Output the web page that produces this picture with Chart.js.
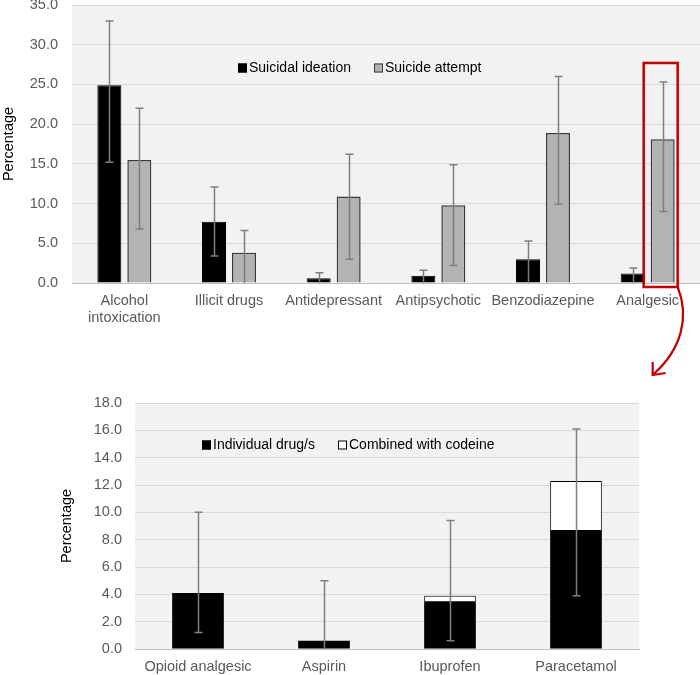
<!DOCTYPE html>
<html>
<head>
<meta charset="utf-8">
<script src="https://cdn.jsdelivr.net/npm/chart.js@4.4.0/dist/chart.umd.min.js"></script>
<style>
  html, body { margin: 0; padding: 0; background: #fff; }
  #wrap { position: relative; width: 700px; height: 675px; overflow: hidden; }
  #topChart { position: absolute; left: 0; top: 0; }
  #bottomChart { position: absolute; left: 0; top: 380px; }
  #overlay { position: absolute; left: 0; top: 0; pointer-events: none; }
</style>
</head>
<body>
<div id="wrap">
  <canvas id="topChart" width="700" height="330"></canvas>
  <canvas id="bottomChart" width="700" height="295"></canvas>
  <canvas id="overlay" width="700" height="675"></canvas>
</div>
<script>
// top chart data
const categories = [['Alcohol', 'intoxication'], 'Illicit drugs', 'Antidepressant', 'Antipsychotic', 'Benzodiazepine', 'Analgesic'];
const ideation = [24.9, 7.7, 0.6, 0.9, 3.0, 1.2];
const ideationLow = [15.2, 3.4, 0, 0, 0, 0];
const ideationHigh = [33.0, 12.1, 1.3, 1.6, 5.3, 1.9];
const attempt = [15.5, 3.8, 10.9, 9.8, 18.9, 18.1];
const attemptLow = [6.8, 0, 3.0, 2.2, 9.9, 9.0];
const attemptHigh = [22.0, 6.6, 16.2, 14.9, 26.0, 25.3];

// bottom chart data
const drugs = ['Opioid analgesic', 'Aspirin', 'Ibuprofen', 'Paracetamol'];
const individual = [4.1, 0.6, 3.5, 8.7];
const withCodeine = [0, 0, 0.4, 3.6];
const drugLow = [1.2, 0, 0.6, 3.9];
const drugHigh = [10.0, 5.0, 9.4, 16.1];

const FONT = 'Arial, "Liberation Sans", sans-serif';
const TICK_SIZE = 14.5;
Chart.defaults.font.family = FONT;
Chart.defaults.font.size = TICK_SIZE;
Chart.defaults.animation = false;

// grey plot area
const plotBg = {
  id: 'plotBg',
  beforeDraw(chart) {
    const a = chart.chartArea, ctx = chart.ctx;
    ctx.save();
    ctx.fillStyle = '#f2f2f2';
    ctx.fillRect(a.left, a.top, a.right - a.left, a.bottom - a.top);
    ctx.restore();
  }
};

// error bars, one set per dataset index
const errorBars = {
  id: 'errorBars',
  afterDatasetsDraw(chart, args, opts) {
    const ctx = chart.ctx, y = chart.scales.y;
    ctx.save();
    ctx.strokeStyle = '#7f7f7f';
    ctx.lineWidth = 1.5;
    opts.sets.forEach(s => {
      const meta = chart.getDatasetMeta(s.index);
      meta.data.forEach((bar, i) => {
        const x = Math.round(bar.x) + 0.5;
        const yl = y.getPixelForValue(s.low[i]);
        const yh = y.getPixelForValue(s.high[i]);
        ctx.beginPath();
        ctx.moveTo(x, yl); ctx.lineTo(x, yh);
        ctx.moveTo(x - 4, yh); ctx.lineTo(x + 4, yh);
        if (s.low[i] > 0) { ctx.moveTo(x - 4, yl); ctx.lineTo(x + 4, yl); }
        ctx.stroke();
      });
    });
    ctx.restore();
  }
};

// legend inside the plot area
const innerLegend = {
  id: 'innerLegend',
  afterDraw(chart, args, opts) {
    const ctx = chart.ctx, a = chart.chartArea;
    ctx.save();
    ctx.font = '14px ' + FONT;
    ctx.textBaseline = 'middle';
    const yc = a.top + opts.dy;
    chart.data.datasets.forEach((ds, i) => {
      const x0 = a.left + opts.xs[i];
      ctx.fillStyle = ds.backgroundColor;
      ctx.fillRect(x0, yc - 4.5, 9, 9);
      ctx.strokeStyle = ds.borderColor;
      ctx.lineWidth = 1;
      ctx.strokeRect(x0 + 0.5, yc - 4, 8, 8);
      ctx.fillStyle = '#000';
      ctx.fillText(ds.label, x0 + 11, yc + 0.5);
    });
    ctx.restore();
  }
};

const topChart = new Chart(document.getElementById('topChart'), {
  type: 'bar',
  data: {
    labels: categories,
    datasets: [
      { label: 'Suicidal ideation', data: ideation, backgroundColor: '#000000', borderColor: '#000000', borderWidth: 1 },
      { label: 'Suicide attempt', data: attempt, backgroundColor: '#b3b3b3', borderColor: '#3a3a3a', borderWidth: 1.5 }
    ]
  },
  options: {
    responsive: false,
    layout: { padding: { left: 0, right: 0, top: 5, bottom: 0 } },
    datasets: { bar: { categoryPercentage: 0.573, barPercentage: 0.8 } },
    plugins: {
      legend: { display: false },
      tooltip: { enabled: false },
      errorBars: { sets: [
        { index: 0, low: ideationLow, high: ideationHigh },
        { index: 1, low: attemptLow, high: attemptHigh }
      ] },
      innerLegend: { dy: 63, xs: [166, 302] }
    },
    scales: {
      x: {
        grid: { display: false, drawTicks: false },
        border: { color: '#bfbfbf', width: 1 },
        ticks: { color: '#595959', padding: 9, maxRotation: 0, autoSkip: false },
        afterFit(s) { s.height = 47; }
      },
      y: {
        min: 0, max: 35,
        ticks: { stepSize: 5, color: '#595959', padding: 14, callback: v => v.toFixed(1) },
        grid: { color: '#d9d9d9', drawTicks: false },
        border: { display: false },
        title: { display: true, text: 'Percentage', color: '#000', padding: { top: 0, bottom: 0 } },
        afterFit(s) { s.width = 72; s.paddingTop = 0; }
      }
    }
  },
  plugins: [plotBg, errorBars, innerLegend]
});

const bottomChart = new Chart(document.getElementById('bottomChart'), {
  type: 'bar',
  data: {
    labels: drugs,
    datasets: [
      { label: 'Individual drug/s', data: individual, backgroundColor: '#000000', borderColor: '#000000', borderWidth: 0 },
      { label: 'Combined with codeine', data: withCodeine, backgroundColor: '#ffffff', borderColor: '#000000', borderWidth: 1 }
    ]
  },
  options: {
    responsive: false,
    layout: { padding: { left: 58, right: 61, top: 23, bottom: 0 } },
    datasets: { bar: { categoryPercentage: 0.82, barPercentage: 0.5 } },
    plugins: {
      legend: { display: false },
      tooltip: { enabled: false },
      errorBars: { sets: [{ index: 1, low: drugLow, high: drugHigh }] },
      innerLegend: { dy: 42, xs: [67, 203] }
    },
    scales: {
      x: {
        stacked: true,
        grid: { display: false, drawTicks: false },
        border: { color: '#bfbfbf', width: 1 },
        ticks: { color: '#595959', padding: 9, maxRotation: 0, autoSkip: false },
        afterFit(s) { s.height = 26; }
      },
      y: {
        stacked: true,
        min: 0, max: 18,
        ticks: { stepSize: 2, color: '#595959', padding: 13, callback: v => v.toFixed(1) },
        grid: { color: '#d9d9d9', drawTicks: false },
        border: { display: false },
        title: { display: true, text: 'Percentage', color: '#000', padding: { top: 0, bottom: 0 } },
        afterFit(s) { s.width = 77; s.paddingTop = 0; }
      }
    }
  },
  plugins: [plotBg, errorBars, innerLegend]
});

// red box around the analgesic attempt bar and the curved arrow to the lower chart
(function drawCallout() {
  const ctx = document.getElementById('overlay').getContext('2d');
  const bar = topChart.getDatasetMeta(1).data[5];
  const ys = topChart.scales.y;
  const left = bar.x - 19, right = bar.x + 15;
  const top = ys.getPixelForValue(27.7), bottom = topChart.chartArea.bottom + 4;
  ctx.strokeStyle = '#c00000';
  ctx.lineWidth = 2.5;
  ctx.strokeRect(left, top, right - left, bottom - top);
  const tipX = left + 9, tipY = 380 + bottomChart.chartArea.top - 28;
  ctx.lineWidth = 2.2;
  ctx.beginPath();
  ctx.moveTo(right, bottom);
  ctx.bezierCurveTo(right + 12, bottom + 30, right + 4, bottom + 62, tipX + 1, tipY - 1);
  ctx.stroke();
  ctx.beginPath();
  ctx.moveTo(tipX, tipY - 13);
  ctx.lineTo(tipX, tipY);
  ctx.lineTo(tipX + 13, tipY - 2);
  ctx.stroke();
})();
</script>
</body>
</html>
